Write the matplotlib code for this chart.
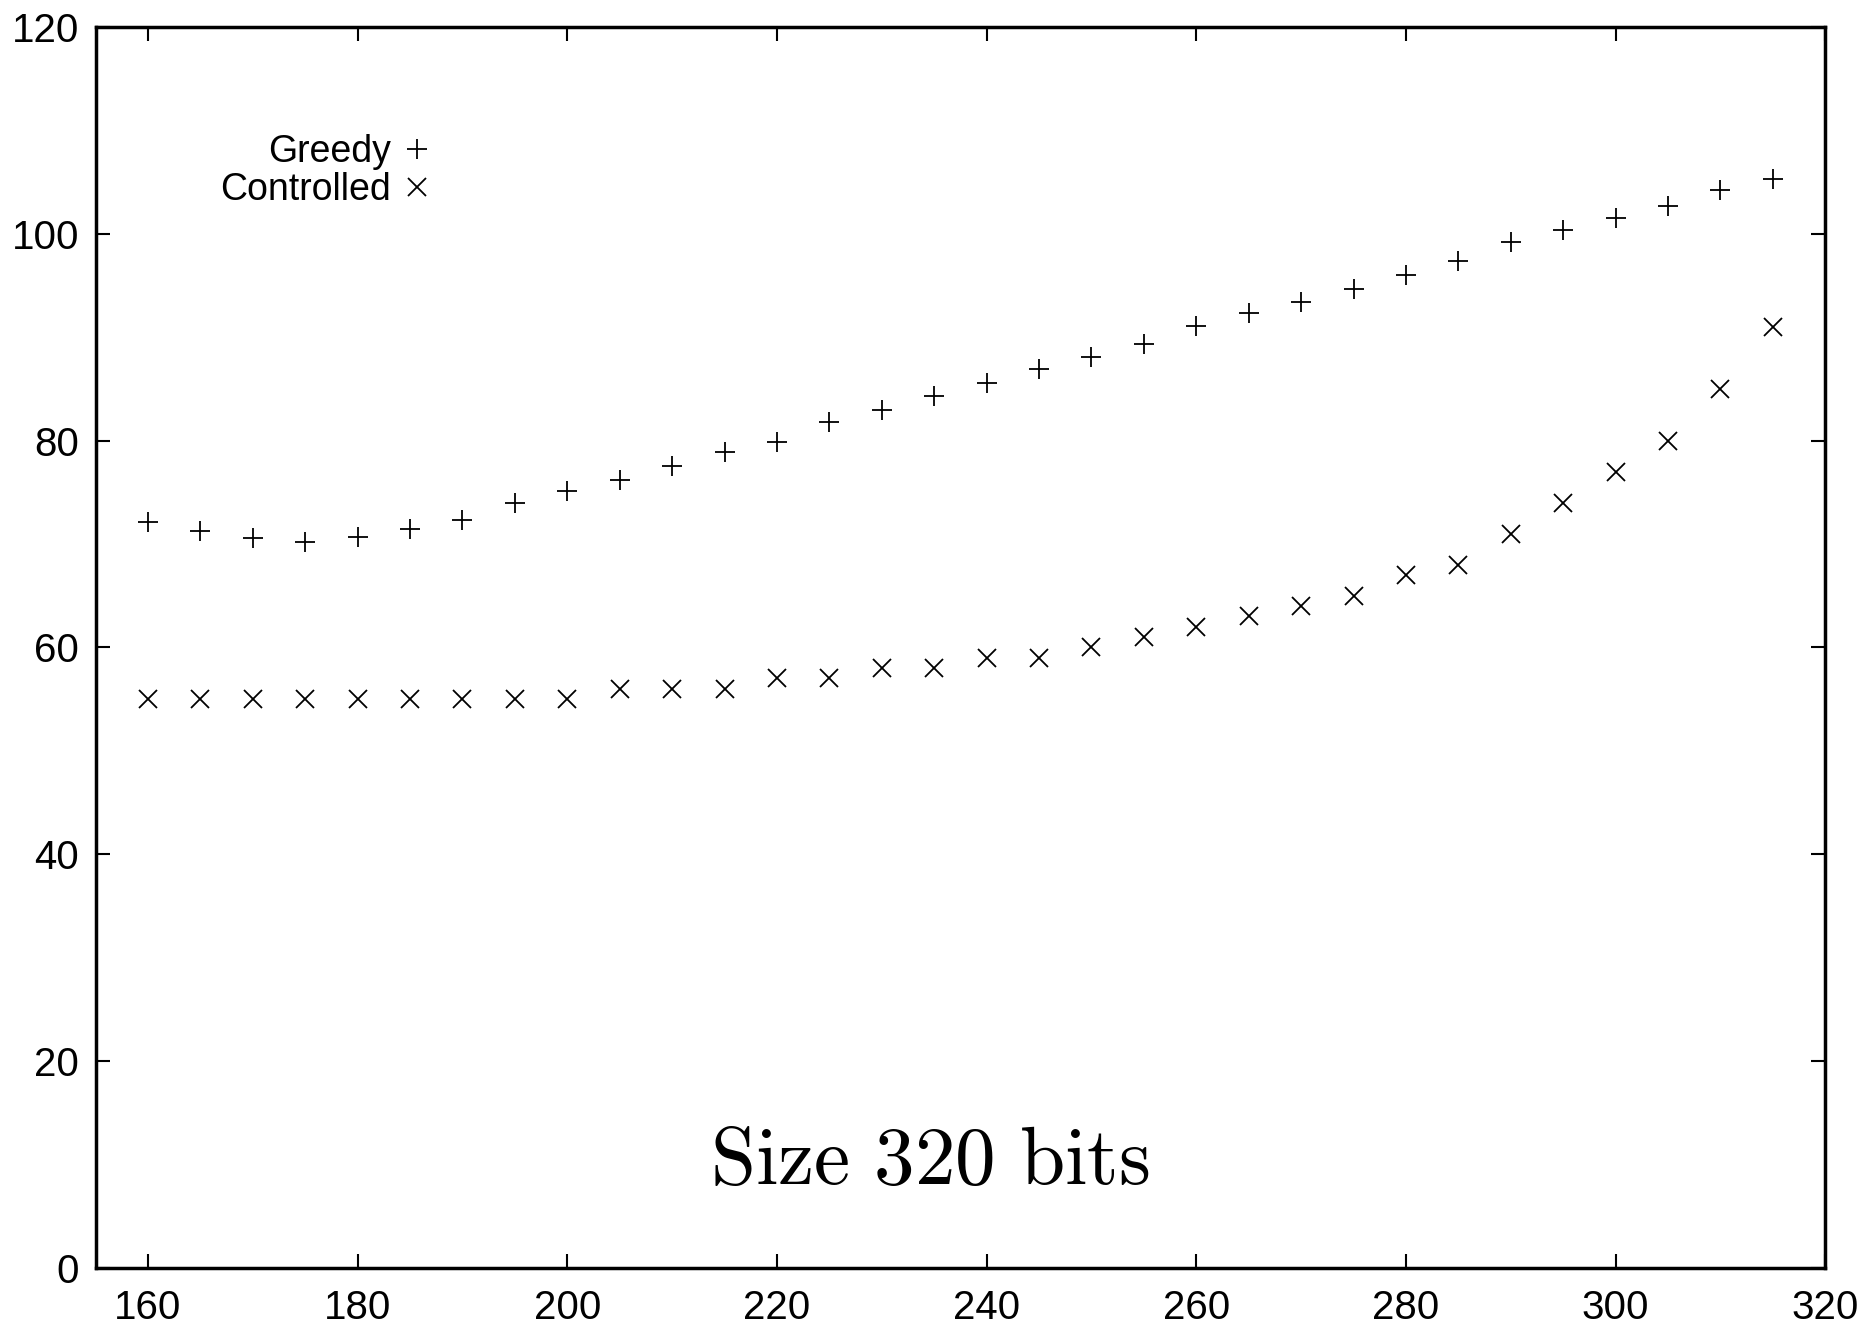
import matplotlib
matplotlib.use("Agg")
import matplotlib.pyplot as plt

plt.rcParams['font.family'] = ['Liberation Sans', 'DejaVu Sans']
plt.rcParams['mathtext.fontset'] = 'cm'

x_values = list(range(160, 320, 5))
greedy = [72.1, 71.3, 70.6, 70.2, 70.7, 71.5, 72.3, 74.0, 75.1, 76.2,
          77.5, 78.9, 79.9, 81.8, 83.0, 84.3, 85.6, 86.9, 88.1, 89.3,
          91.1, 92.3, 93.4, 94.7, 96.0, 97.4, 99.2, 100.4, 101.5, 102.7,
          104.2, 105.3]
controlled = [55, 55, 55, 55, 55, 55, 55, 55, 55, 56,
              56, 56, 57, 57, 58, 58, 59, 59, 60, 61,
              62, 63, 64, 65, 67, 68, 71, 74, 77, 80,
              85, 91]
series_labels = ["Greedy", "Controlled"]
x_ticks = [160, 180, 200, 220, 240, 260, 280, 300, 320]
y_ticks = [0, 20, 40, 60, 80, 100, 120]
annotation = "Size 320 bits"

fig = plt.figure(figsize=(18.74, 13.33), dpi=100)
ax = fig.add_axes([0.051, 0.0488, 0.923, 0.931])

ax.plot(x_values, greedy, linestyle='none', marker='+', markersize=15,
        markeredgewidth=1.3, color='black', label=series_labels[0])
ax.plot(x_values, controlled, linestyle='none', marker='x', markersize=13,
        markeredgewidth=1.3, color='black', label=series_labels[1])

ax.set_xlim(155, 320)
ax.set_ylim(0, 120)
ax.set_xticks(x_ticks)
ax.set_yticks(y_ticks)
ax.tick_params(axis='both', direction='in', length=10, width=1.5,
               labelsize=29, top=True, right=True)
ax.tick_params(axis='x', pad=15)
ax.tick_params(axis='y', pad=12)
for s in ax.spines.values():
    s.set_linewidth(2.5)

leg = ax.legend(loc='upper left', bbox_to_anchor=(0.072, 0.914),
                markerfirst=False, frameon=False, fontsize=27,
                handlelength=0.6, handletextpad=0.4, labelspacing=0.07,
                borderpad=0, borderaxespad=0)

ax.text(0.482, 0.068, r'$\mathrm{Size\ 320\ bits}$', transform=ax.transAxes,
        ha='center', va='baseline', fontsize=58.5, color='black')

fig.savefig('out.png', dpi=100)
